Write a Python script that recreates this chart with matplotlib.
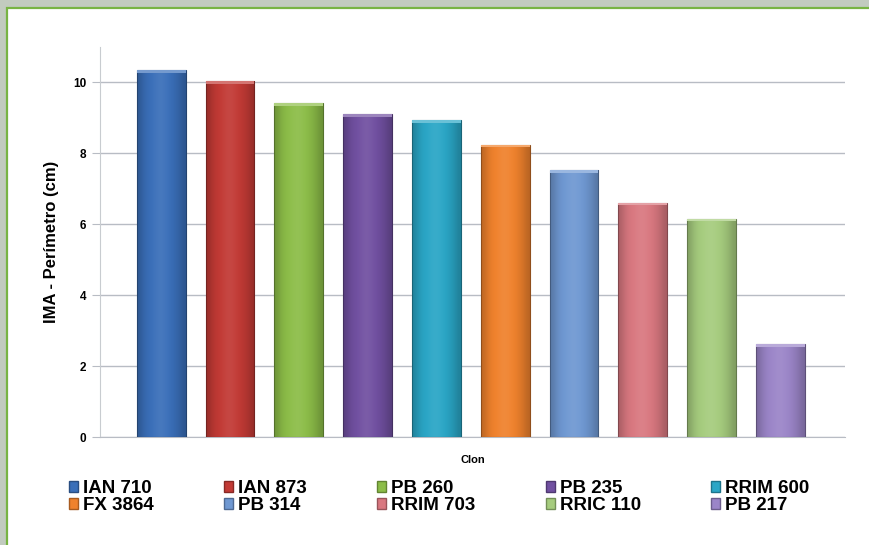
import numpy as np
import matplotlib.pyplot as plt
from matplotlib.patches import Rectangle
from matplotlib.colors import to_rgb

plt.rcParams['font.family'] = ['Liberation Sans', 'DejaVu Sans']

# IMA del perímetro por clon
clones = ['IAN 710', 'IAN 873', 'PB 260', 'PB 235', 'RRIM 600',
          'FX 3864', 'PB 314', 'RRIM 703', 'RRIC 110', 'PB 217']
ima = [10.34, 10.03, 9.43, 9.10, 8.95, 8.25, 7.54, 6.61, 6.16, 2.63]
colores = ['#3a6fb9', '#c23a35', '#8cbd48', '#7150a1', '#2aa6c6',
           '#f0822d', '#6f98d2', '#d97880', '#a6cc7e', '#9b85c8']
yticks = [0, 2, 4, 6, 8, 10]


def shade(c, f):
    r = np.array(to_rgb(c))
    if f < 1:
        return r * f
    return r + (1 - r) * (f - 1)


fig = plt.figure(figsize=(8.7, 5.45), dpi=100)
fig.patch.set_facecolor('#c2cbbf')

# panel blanco con borde verde (sale por la derecha y por abajo)
fig.patches.append(Rectangle((7 / 870, -0.5), 2, 1.5 - 8 / 545, transform=fig.transFigure,
                             facecolor='white', edgecolor='#78b443', lw=1.6, zorder=-5))

ax = fig.add_axes([100 / 870, 1 - 437 / 545, 745 / 870, 390 / 545])
ax.set_facecolor('none')

x = np.arange(len(clones))
bars = ax.bar(x, ima, width=0.71, color=colores, zorder=3)

# degradado horizontal en cada barra (bordes algo oscuros, centro claro)
perfil = np.array([0.8, 0.9, 0.97, 1.0, 1.04, 1.07, 1.06, 1.02, 0.98, 0.93, 0.87, 0.78])
for b, c in zip(bars, colores):
    x0, w, h = b.get_x(), b.get_width(), b.get_height()
    grad = np.array([[shade(c, f) for f in perfil]])
    im = ax.imshow(np.clip(grad, 0, 1), extent=[x0, x0 + w, 0, h], aspect='auto',
                   interpolation='bicubic', zorder=4)
    im.set_clip_path(b)
    ax.add_patch(Rectangle((x0, 0), w, h, fill=False, edgecolor=shade(c, 0.6), lw=0.8, zorder=5))
    ax.add_patch(Rectangle((x0, h - 0.08), w, 0.08, facecolor=shade(c, 1.3), edgecolor='none', zorder=5))
    b.set_facecolor('none')

ax.set_xlim(-0.89, 9.94)
ax.set_ylim(0, 11)
ax.set_yticks(yticks)
ax.set_xticks([])
ax.grid(axis='y', color='#b8bcc4', lw=1.0, zorder=0)
for s in ['top', 'right']:
    ax.spines[s].set_visible(False)
ax.spines['left'].set_color('#c8ccd0')
ax.spines['bottom'].set_color('#b8bcc4')
ax.tick_params(axis='y', length=6, color='#b8bcc4', labelsize=8.5, pad=4)
for t in ax.get_yticklabels():
    t.set_fontweight('bold')

ax.set_ylabel('IMA - Perímetro (cm)', fontsize=12, fontweight='bold', labelpad=10)
ax.set_xlabel('Clon', fontsize=8, fontweight='bold', labelpad=13)

# leyenda en dos filas de cinco
orden = [0, 5, 1, 6, 2, 7, 3, 8, 4, 9]
proxies = [Rectangle((0, 0), 1, 1, facecolor=colores[i], edgecolor=shade(colores[i], 0.7))
           for i in orden]
fig.legend(proxies, [clones[i] for i in orden], ncol=5, loc='center',
           bbox_to_anchor=(439 / 870, 1 - 497 / 545), frameon=False,
           prop={'weight': 'bold', 'size': 13.5}, handlelength=0.5, handleheight=0.5,
           handletextpad=0.25, columnspacing=3.75, labelspacing=0.0, borderpad=0)

fig.savefig('out.png', dpi=100, facecolor=fig.get_facecolor())
